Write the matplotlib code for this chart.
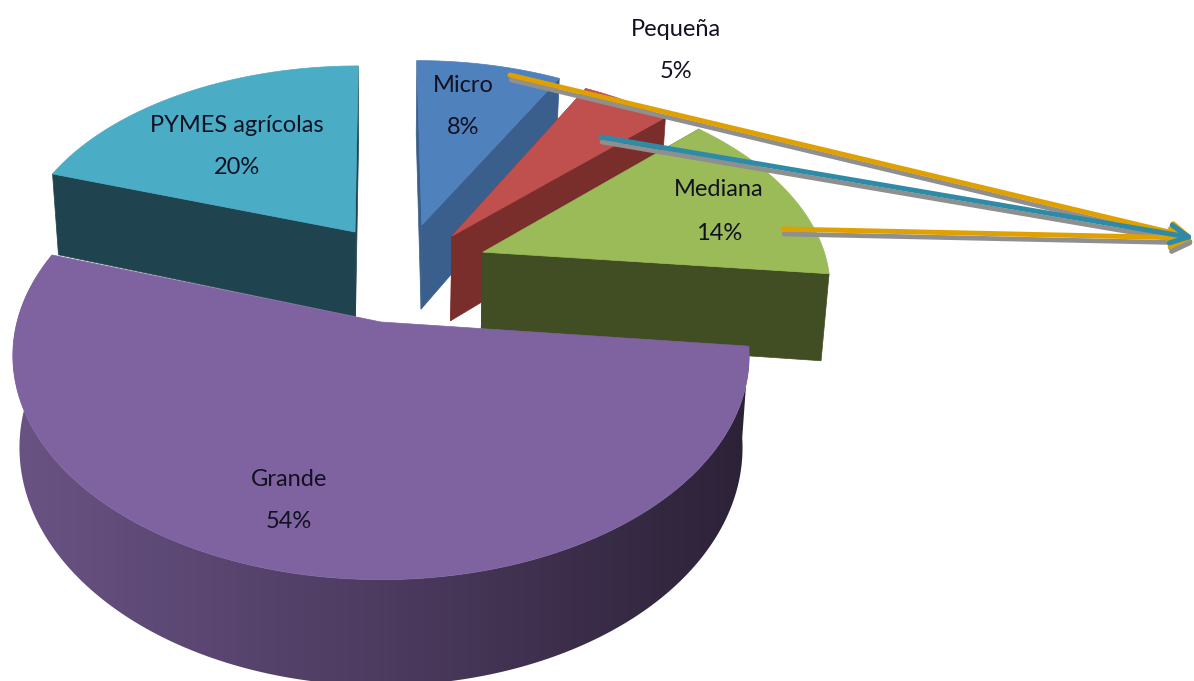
import numpy as np
import matplotlib
matplotlib.use('Agg')
import matplotlib.pyplot as plt
from matplotlib.colors import LinearSegmentedColormap
from matplotlib.patches import Polygon

# chart data
categories = ['Micro', 'Pequeña', 'Mediana', 'Grande', 'PYMES agrícolas']
values = [8, 5, 14, 54, 20]

# look of each slice
top_colors = ['#4f81bd', '#c0504d', '#9bbb59', '#7f62a0', '#4bacc6']
side_colors = ['#3a5f8c', '#7a2e2c', '#414d22', '#2b2136', '#1f4450']
offset_x = [0.120, 0.207, 0.294, 0.0, -0.076]
offset_y = [0.474, 0.417, 0.335, 0.0, 0.438]
radius = [0.98, 0.97, 0.985, 1.0, 0.98]
label_x = [463, 676, 719, 289, 237]
label_y = [85, 29, 190, 479, 125]
label_gap = [43, 43, 43, 43, 43]
draw_order = [4, 0, 1, 2, 3]

# perspective of the pie plane, in picture pixels
cx, cy = 381, 322
rx, ry = 364, 219
persp = 0.15
depth = 90


def project(x, y, drop=0.0):
    w = 1 + persp * y
    squeeze = 1 - 0.018 * drop
    return cx + rx * x * squeeze / w, cy - ry * y / w + drop * depth / w


fig = plt.figure(figsize=(11.94, 6.81), dpi=100)
ax = fig.add_axes([0, 0, 1, 1])
ax.set_xlim(0, 1194)
ax.set_ylim(681, 0)
ax.axis('off')

rim_cmap = LinearSegmentedColormap.from_list('rim', ['#6a5485', '#4d3b60', '#2b2136'])

shares = np.array(values) / sum(values) * 360
ends = 90 - np.cumsum(shares)
starts = ends + shares

for i in draw_order:
    ox, oy = offset_x[i], offset_y[i]
    th = np.radians(np.linspace(starts[i], ends[i], 200))
    ax_, ay_ = ox + radius[i] * np.cos(th), oy + radius[i] * np.sin(th)
    tx, ty = project(ax_, ay_)
    bx, by = project(ax_, ay_, 1)
    ox_t, oy_t = project(ox, oy)
    ox_b, oy_b = project(ox, oy, 1)

    if categories[i] == 'Grande':
        # only the big slice shows its outer rim, with a left to right shade
        rim = Polygon(np.column_stack([np.r_[tx, bx[::-1]], np.r_[ty, by[::-1]]]),
                      facecolor='none', edgecolor='none', zorder=2)
        ax.add_patch(rim)
        grad = ax.imshow(np.linspace(0, 1, 256).reshape(1, -1), cmap=rim_cmap, aspect='auto',
                         extent=(0, 760, 681, 0), zorder=2)
        grad.set_clip_path(rim)
        ax.set_xlim(0, 1194)
        ax.set_ylim(681, 0)
    else:
        # the two cut faces
        for k in (0, -1):
            ax.add_patch(Polygon([(ox_t, oy_t), (tx[k], ty[k]), (bx[k], by[k]), (ox_b, oy_b)],
                                 facecolor=side_colors[i], edgecolor=side_colors[i], lw=0.5, zorder=2))
    # top face
    pts = np.column_stack([np.r_[ox_t, tx], np.r_[oy_t, ty]])
    ax.add_patch(Polygon(pts, facecolor=top_colors[i], edgecolor=top_colors[i], lw=0.5, zorder=2))

for i, name in enumerate(categories):
    txt_color = '#111122'
    ax.text(label_x[i], label_y[i], name, ha='center', va='center', fontsize=17,
            family='Lato', color=txt_color, zorder=3)
    ax.text(label_x[i], label_y[i] + label_gap[i], f'{values[i]}%', ha='center', va='center',
            fontsize=17, family='Lato', color=txt_color, zorder=3)

# call-out arrows, grey shadow under the coloured line
arrow_starts = [(783, 229), (510, 75), (601, 137)]
arrow_colors = ['#e0a000', '#e0a000', '#2e8ba8']
arrow_tip = (1194, 238)
head = '->,head_length=1.3,head_width=0.65'
for start, col in zip(arrow_starts, arrow_colors):
    # the tip sits past the axes edge once shifted, so no annotation clipping here
    ax.annotate('', xy=(arrow_tip[0] + 1, arrow_tip[1] + 5), xytext=(start[0] + 1, start[1] + 5),
                annotation_clip=False,
                arrowprops=dict(arrowstyle=head, color='#8f8f8f', lw=3.4, shrinkA=0, shrinkB=0), zorder=4)
for start, col in zip(arrow_starts, arrow_colors):
    ax.annotate('', xy=arrow_tip, xytext=start, annotation_clip=False,
                arrowprops=dict(arrowstyle=head, color=col, lw=3.6, shrinkA=0, shrinkB=0), zorder=5)

fig.savefig('out.png', dpi=100, facecolor='white')
